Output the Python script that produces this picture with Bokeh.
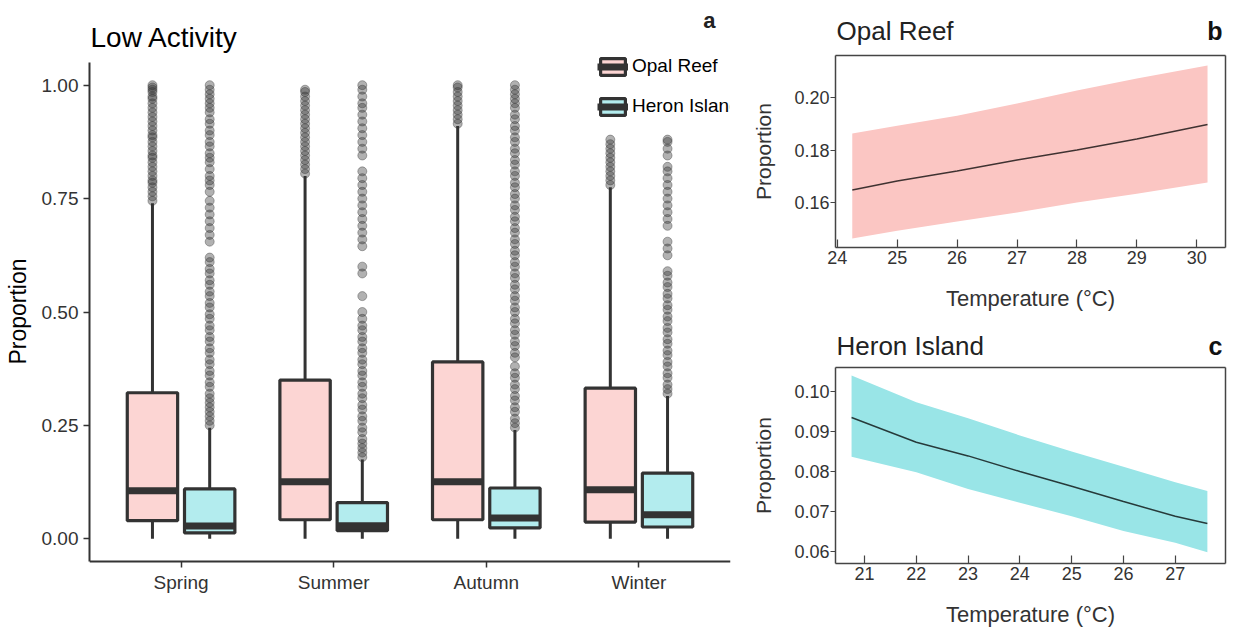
import math
from bokeh.plotting import figure
from bokeh.models import (Range1d, FixedTicker, PrintfTickFormatter, Label, Legend,
                          LegendItem, ColumnDataSource, LinearAxis)
from bokeh.layouts import row, column
from bokeh.embed import file_html
from bokeh.resources import INLINE

FONT = "Liberation Sans"

# ---------------- data: panel a (box plots) ----------------
seasons = ["Spring", "Summer", "Autumn", "Winter"]
sites = ["Opal Reef", "Heron Island"]

opal_lower = [0.0, 0.0, 0.0, 0.0]
opal_q1 = [0.040, 0.042, 0.042, 0.037]
opal_median = [0.106, 0.126, 0.126, 0.108]
opal_q3 = [0.322, 0.350, 0.390, 0.332]
opal_upper = [0.740, 0.800, 0.910, 0.775]

heron_lower = [0.0, 0.0, 0.0, 0.0]
heron_q1 = [0.013, 0.018, 0.024, 0.026]
heron_median = [0.028, 0.029, 0.046, 0.053]
heron_q3 = [0.110, 0.080, 0.112, 0.145]
heron_upper = [0.245, 0.175, 0.240, 0.315]

opal_outliers = {
    "Spring": [0.745, 0.755, 0.765, 0.775, 0.785, 0.79, 0.80, 0.81, 0.82, 0.83, 0.84, 0.845,
               0.855, 0.865, 0.875, 0.885, 0.89, 0.90, 0.91, 0.92, 0.93, 0.94, 0.95, 0.96,
               0.97, 0.975, 0.985, 0.99, 0.995, 1.0],
    "Summer": [0.805, 0.815, 0.825, 0.835, 0.845, 0.855, 0.865, 0.875, 0.885, 0.895, 0.905,
               0.915, 0.925, 0.935, 0.945, 0.955, 0.965, 0.975, 0.985, 0.99],
    "Autumn": [0.915, 0.925, 0.935, 0.945, 0.955, 0.965, 0.975, 0.985, 0.995, 1.0],
    "Winter": [0.78, 0.79, 0.80, 0.81, 0.82, 0.83, 0.84, 0.85, 0.86, 0.87, 0.88],
}
heron_outliers = {
    "Spring": [0.25, 0.26, 0.27, 0.28, 0.29, 0.30, 0.31, 0.32, 0.335, 0.345, 0.36, 0.37,
               0.385, 0.395, 0.41, 0.42, 0.435, 0.445, 0.46, 0.47, 0.485, 0.495, 0.51, 0.52,
               0.535, 0.545, 0.56, 0.57, 0.585, 0.595, 0.61, 0.62, 0.655, 0.67, 0.685, 0.70,
               0.715, 0.73, 0.745, 0.765, 0.78, 0.79, 0.80, 0.815, 0.83, 0.84, 0.85, 0.865,
               0.875, 0.89, 0.90, 0.915, 0.925, 0.94, 0.95, 0.96, 0.97, 0.98, 0.99, 1.0],
    "Summer": [0.18, 0.19, 0.20, 0.21, 0.22, 0.235, 0.245, 0.26, 0.27, 0.285, 0.295, 0.31,
               0.32, 0.335, 0.345, 0.36, 0.37, 0.385, 0.395, 0.41, 0.42, 0.435, 0.445, 0.46,
               0.47, 0.485, 0.50, 0.535, 0.585, 0.60, 0.645, 0.66, 0.675, 0.69, 0.705, 0.72,
               0.735, 0.75, 0.765, 0.78, 0.795, 0.81, 0.845, 0.86, 0.875, 0.89, 0.905, 0.92,
               0.935, 0.95, 0.96, 0.975, 0.99, 1.0],
    "Autumn": [0.245, 0.255, 0.265, 0.28, 0.29, 0.305, 0.315, 0.33, 0.34, 0.355, 0.365, 0.38,
               0.40, 0.41, 0.425, 0.435, 0.45, 0.46, 0.475, 0.485, 0.50, 0.51, 0.525, 0.535,
               0.55, 0.56, 0.575, 0.585, 0.60, 0.61, 0.625, 0.635, 0.65, 0.66, 0.675, 0.685,
               0.70, 0.71, 0.725, 0.735, 0.75, 0.76, 0.775, 0.785, 0.80, 0.81, 0.825, 0.835,
               0.85, 0.86, 0.875, 0.885, 0.90, 0.91, 0.925, 0.935, 0.95, 0.96, 0.97, 0.98,
               0.99, 1.0],
    "Winter": [0.32, 0.33, 0.34, 0.355, 0.365, 0.38, 0.39, 0.405, 0.415, 0.43, 0.44, 0.455,
               0.465, 0.48, 0.49, 0.505, 0.515, 0.53, 0.54, 0.555, 0.565, 0.58, 0.59, 0.625,
               0.64, 0.655, 0.69, 0.705, 0.72, 0.735, 0.75, 0.765, 0.78, 0.795, 0.81, 0.82,
               0.845, 0.86, 0.875, 0.88],
}
y_ticks_a = [0.0, 0.25, 0.50, 0.75, 1.00]

# ---------------- data: panels b, c (model fits) ----------------
opal_temp = [24.25, 25, 26, 27, 28, 29, 30.18]
opal_fit = [0.1648, 0.1682, 0.1720, 0.1762, 0.1800, 0.1842, 0.1897]
opal_ci_low = [0.1463, 0.1493, 0.1528, 0.1562, 0.1600, 0.1634, 0.1676]
opal_ci_high = [0.1863, 0.1893, 0.1931, 0.1977, 0.2027, 0.2072, 0.2122]
opal_xticks = [24, 25, 26, 27, 28, 29, 30]
opal_yticks = [0.16, 0.18, 0.20]

heron_temp = [20.75, 22, 23, 24, 25, 26, 27, 27.62]
heron_fit = [0.0935, 0.0873, 0.0839, 0.0800, 0.0763, 0.0725, 0.0688, 0.0670]
heron_ci_low = [0.0837, 0.0798, 0.0756, 0.0722, 0.0688, 0.0651, 0.0622, 0.0598]
heron_ci_high = [0.1040, 0.0973, 0.0933, 0.0890, 0.0850, 0.0812, 0.0773, 0.0751]
heron_xticks = [21, 22, 23, 24, 25, 26, 27]
heron_yticks = [0.06, 0.07, 0.08, 0.09, 0.10]

# ---------------- styles ----------------
PINK = "#FCD5D3"
CYAN = "#B3ECEE"
BAND_PINK = "#FBC6C3"
BAND_CYAN = "#99E5E7"
DARK = "#333333"
FRAME = "#444444"

# ---------------- panel a ----------------
A_XLIM = (0.4, 4.6)
A_YLIM = (-0.05, 1.05)
A_BOX_TOP, A_BOX_BOTTOM, A_FRAME_H = 62, 561, 622      # px inside the canvas
a_ppu = (A_BOX_BOTTOM - A_BOX_TOP) / (A_YLIM[1] - A_YLIM[0])
a_ymin = A_YLIM[0] - (A_FRAME_H - A_BOX_BOTTOM) / a_ppu
a_ymax = A_YLIM[0] + A_BOX_BOTTOM / a_ppu
a_xppu = (730 - 89) / (A_XLIM[1] - A_XLIM[0])


def a_y(px):
    return A_YLIM[0] + (A_BOX_BOTTOM - px) / a_ppu


def a_x(px):
    return A_XLIM[0] + (px - 89) / a_xppu


pa = figure(width=735, height=628, title=None, x_range=Range1d(*A_XLIM),
            y_range=Range1d(a_ymin, a_ymax),
            output_backend="svg", toolbar_location=None,
            min_border_left=89, min_border_right=5, min_border_top=0,
            min_border_bottom=628 - A_FRAME_H)
pa.xgrid.visible = False
pa.ygrid.visible = False
pa.outline_line_color = None
pa.background_fill_color = "white"

dodge = 0.1875
box_w = 0.33
groups = [
    ("Opal Reef", -dodge, PINK, opal_lower, opal_q1, opal_median, opal_q3, opal_upper, opal_outliers),
    ("Heron Island", dodge, CYAN, heron_lower, heron_q1, heron_median, heron_q3, heron_upper, heron_outliers),
]
legend_items = []
for name, off, col, lo, q1, med, q3, up, outl in groups:
    xs = [i + 1 + off for i in range(len(seasons))]
    src = ColumnDataSource(dict(x=xs, x0=[x - box_w / 2 for x in xs], x1=[x + box_w / 2 for x in xs],
                                lo=lo, q1=q1, med=med, q3=q3, up=up))
    pa.segment(x0="x", x1="x", y0="q3", y1="up", source=src, line_color=DARK, line_width=3)
    pa.segment(x0="x", x1="x", y0="lo", y1="q1", source=src, line_color=DARK, line_width=3)
    box_r = pa.vbar(x="x", width=box_w, bottom="q1", top="q3", source=src, fill_color=col,
                    line_color=DARK, line_width=3.2)
    med_r = pa.segment(x0="x0", x1="x1", y0="med", y1="med", source=src, line_color=DARK,
                       line_width=7)
    ox, oy = [], []
    for i, s in enumerate(seasons):
        for v in outl[s]:
            ox.append(i + 1 + off)
            oy.append(v)
    pa.scatter(ox, oy, size=9, fill_color=DARK, fill_alpha=0.38, line_color=DARK, line_alpha=0.38)
    legend_items.append(LegendItem(label=name, renderers=[box_r, med_r]))

legend = Legend(items=legend_items, location=(508, A_FRAME_H - 117), glyph_width=31,
                glyph_height=21, label_height=21, spacing=18, padding=0, margin=0,
                border_line_color=None, background_fill_alpha=0, label_text_font=FONT,
                label_text_font_size="19px", label_standoff=4, label_text_color="black")
pa.add_layout(legend)

pa.xaxis.ticker = FixedTicker(ticks=[i + 1 for i in range(len(seasons))])
pa.xaxis.major_label_overrides = {i + 1: s for i, s in enumerate(seasons)}
pa.xaxis.fixed_location = A_YLIM[0]
pa.yaxis.ticker = FixedTicker(ticks=y_ticks_a)
pa.yaxis.formatter = PrintfTickFormatter(format="%.2f")
pa.yaxis.bounds = A_YLIM
pa.yaxis.axis_label = "Proportion"
for ax in (pa.xaxis[0], pa.yaxis[0]):
    ax.axis_line_color = DARK
    ax.axis_line_width = 2
    ax.major_tick_line_color = DARK
    ax.major_tick_line_width = 1.5
    ax.major_tick_out = 6
    ax.major_tick_in = 0
    ax.minor_tick_line_color = None
    ax.major_label_text_font = FONT
    ax.major_label_text_font_size = "19px"
    ax.major_label_text_color = DARK
    ax.axis_label_text_font = FONT
    ax.axis_label_text_font_size = "23px"
    ax.axis_label_text_font_style = "normal"
    ax.axis_label_text_color = "black"
pa.xaxis.major_label_standoff = 4
pa.yaxis.major_label_standoff = 5
pa.yaxis.axis_label_standoff = 8

pa.add_layout(Label(x=A_XLIM[0], y=a_y(37), x_offset=1, text="Low Activity", text_font=FONT,
                    text_font_size="28px", text_baseline="alphabetic", text_color="black"))
pa.add_layout(Label(x=a_x(715), y=a_y(20), text="a", text_font=FONT,
                    text_font_size="22px", text_font_style="bold", text_align="right",
                    text_baseline="alphabetic", text_color="#222222"))


# ---------------- panels b & c ----------------
def fit_panel(title, letter, temp, fit, lo, hi, band, xr, yr, xt, yt, box_top_px,
              box_bottom_px, title_base_px, xlabel_mid_px):
    W, H = 505, 314
    BOX_L, BOX_R = 100, 490
    xppu = (BOX_R - BOX_L) / (xr[1] - xr[0])
    ppu = (box_bottom_px - box_top_px) / (yr[1] - yr[0])

    def px_x(px):
        return xr[0] + (px - BOX_L) / xppu

    def px_y(px):
        return yr[0] + (box_bottom_px - px) / ppu

    p = figure(width=W, height=H, title=None, x_range=Range1d(px_x(0), px_x(W)),
               y_range=Range1d(px_y(H), px_y(0)),
               output_backend="svg", toolbar_location=None, min_border=0,
               min_border_left=0, min_border_right=0, min_border_top=0, min_border_bottom=0)
    p.xgrid.visible = False
    p.ygrid.visible = False
    p.outline_line_color = None
    p.varea(x=temp, y1=lo, y2=hi, fill_color=band)
    p.line(temp, fit, line_color="black", line_alpha=0.75, line_width=1.5)
    p.xaxis.ticker = FixedTicker(ticks=xt)
    p.xaxis.fixed_location = yr[0]
    p.xaxis.bounds = xr
    p.yaxis.ticker = FixedTicker(ticks=yt)
    p.yaxis.formatter = PrintfTickFormatter(format="%.2f")
    p.yaxis.fixed_location = xr[0]
    p.yaxis.bounds = yr
    for ax in (p.xaxis[0], p.yaxis[0]):
        ax.axis_line_color = FRAME
        ax.axis_line_width = 1.5
        ax.major_tick_line_color = FRAME
        ax.major_tick_line_width = 1.2
        ax.minor_tick_line_color = None
        ax.major_label_text_font = FONT
        ax.major_label_text_font_size = "18px"
        ax.major_label_text_color = DARK
    p.xaxis.major_tick_in = 8
    p.xaxis.major_tick_out = 0
    p.xaxis.major_label_standoff = 3
    p.yaxis.major_tick_in = 0
    p.yaxis.major_tick_out = 5
    p.yaxis.major_label_standoff = 1
    # right and top edges of the box
    p.add_layout(LinearAxis(fixed_location=xr[1], bounds=yr, ticker=FixedTicker(ticks=[]),
                            axis_line_color=FRAME, axis_line_width=1.5,
                            major_tick_line_color=None, minor_tick_line_color=None), "right")
    p.add_layout(LinearAxis(fixed_location=yr[1], bounds=xr, ticker=FixedTicker(ticks=[]),
                            axis_line_color=FRAME, axis_line_width=1.5,
                            major_tick_line_color=None, minor_tick_line_color=None), "above")
    # axis titles
    p.add_layout(Label(x=px_x(28), y=px_y((box_top_px + box_bottom_px) / 2), text="Proportion",
                       angle=math.pi / 2, text_align="center", text_baseline="middle",
                       text_font=FONT, text_font_size="21px", text_color=DARK))
    p.add_layout(Label(x=(xr[0] + xr[1]) / 2, y=px_y(xlabel_mid_px), text="Temperature (°C)",
                       text_align="center", text_baseline="middle",
                       text_font=FONT, text_font_size="22px", text_color=DARK))
    # panel title and letter
    p.add_layout(Label(x=px_x(BOX_L + 1), y=px_y(title_base_px), text=title, text_font=FONT,
                       text_font_size="26px", text_baseline="alphabetic", text_color="#222222"))
    p.add_layout(Label(x=px_x(BOX_R - 3), y=px_y(title_base_px), text=letter, text_font=FONT,
                       text_font_size="25px", text_font_style="bold", text_align="right",
                       text_baseline="alphabetic", text_color="#111111"))
    return p


pb = fit_panel("Opal Reef", "b", opal_temp, opal_fit, opal_ci_low, opal_ci_high, BAND_PINK,
               (23.97, 30.48), (0.1429, 0.216), opal_xticks, opal_yticks, 55, 247, 30, 298)
pc = fit_panel("Heron Island", "c", heron_temp, heron_fit, heron_ci_low, heron_ci_high, BAND_CYAN,
               (20.44, 27.97), (0.057, 0.106), heron_xticks, heron_yticks, 53, 249, 31, 300)

layout = row(pa, column(pb, pc))
open("out.html", "w").write(file_html(layout, INLINE))
